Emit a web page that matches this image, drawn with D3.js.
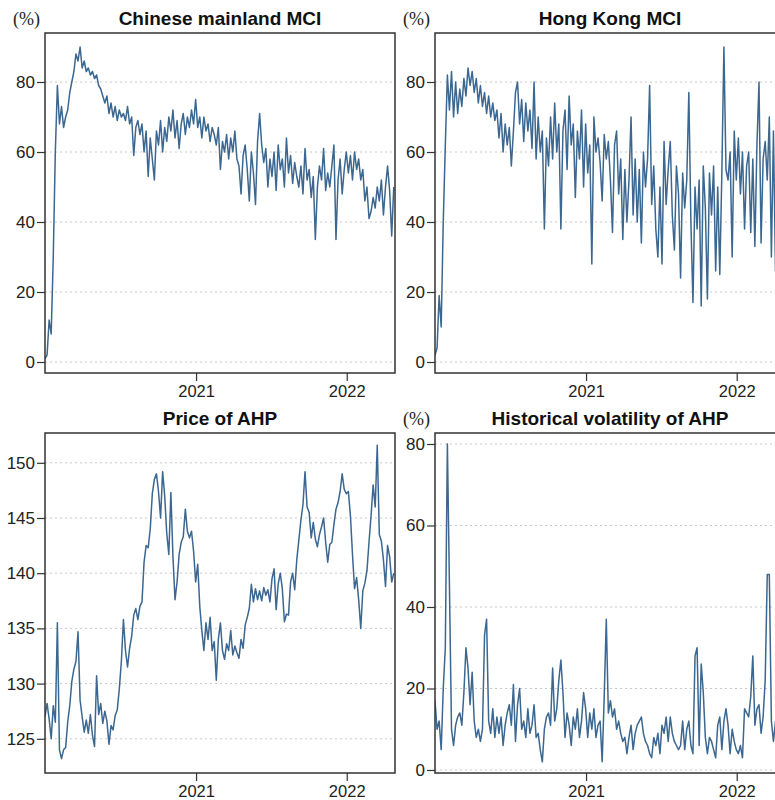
<!DOCTYPE html>
<html>
<head>
<meta charset="utf-8">
<script src="https://cdn.jsdelivr.net/npm/d3@7"></script>
<style>
  body { margin: 0; background: #fff; }
  svg { display: block; overflow: hidden; }
</style>
</head>
<body>
<div id="chart"></div>
<script>
/* DATA (one value every 5 days from 2020-01-01) */
const startDate = new Date(2020, 0, 1);
const endDate = new Date(2022, 3, 28);
const stepDays = 5;
const yearTicks = [2021, 2022];

const mainlandMCI = [
  1, 2, 12, 8, 30, 60, 79, 68, 73, 67, 70, 72, 77, 80, 83, 88, 86, 90, 84, 86,
  83, 84, 82, 83, 81, 82, 79, 78, 76, 74, 76, 71, 74, 70, 73, 69, 72, 70, 71, 69,
  73, 68, 70, 59, 67, 69, 65, 68, 60, 66, 53, 64, 58, 52, 66, 62, 69, 60, 67, 63,
  70, 66, 72, 64, 69, 61, 68, 71, 65, 70, 67, 72, 68, 75, 67, 70, 64, 70, 66, 68,
  63, 67, 65, 62, 67, 55, 63, 60, 65, 58, 64, 60, 66, 58, 56, 48, 59, 62, 55, 46,
  60, 54, 45, 63, 71, 62, 57, 61, 50, 58, 53, 60, 49, 62, 55, 58, 50, 64, 54, 59,
  51, 57, 53, 50, 56, 48, 61, 52, 55, 47, 53, 35, 50, 56, 52, 61, 49, 54, 50, 56,
  62, 35, 52, 58, 48, 55, 60, 54, 59, 52, 60, 55, 58, 52, 55, 46, 50, 41, 43, 47,
  44, 50, 46, 52, 42, 50, 56, 49, 36, 50
];

const hongKongMCI = [
  2, 4, 19, 10, 40, 62, 82, 72, 83, 70, 80, 71, 78, 73, 81, 76, 84, 79, 83, 77,
  81, 74, 79, 73, 77, 71, 76, 70, 74, 69, 72, 64, 71, 60, 68, 62, 67, 56, 66, 77,
  80, 68, 75, 63, 74, 66, 72, 61, 80, 58, 70, 60, 66, 38, 64, 56, 70, 58, 74, 60,
  68, 38, 66, 72, 55, 76, 62, 68, 47, 66, 58, 72, 50, 68, 54, 62, 28, 70, 60, 64,
  57, 46, 65, 58, 63, 52, 37, 62, 66, 48, 58, 35, 55, 40, 52, 70, 42, 58, 40, 55,
  34, 60, 50, 58, 79, 45, 56, 38, 30, 50, 28, 63, 45, 55, 63, 42, 32, 56, 48, 24,
  54, 44, 52, 77, 40, 17, 50, 38, 52, 16, 56, 44, 18, 54, 42, 56, 26, 50, 25, 54,
  90, 55, 52, 60, 30, 66, 52, 64, 48, 60, 38, 56, 60, 37, 58, 33, 62, 80, 34, 58,
  63, 52, 70, 30, 66, 26, 60, 55, 48, 52
];

const priceAHP = [
  127, 128.2, 126.8, 125, 128, 126.5, 135.5, 124, 123.2, 124, 124.2, 126.5, 128, 130.2, 131.3, 132, 134.7, 128.5, 127, 125.6,
  126.7, 125.5, 127.2, 125.3, 124.3, 130.7, 127.2, 128.2, 126.4, 127.5, 126.6, 124.5, 126.2, 125.8, 127.1, 127.6, 129.5, 132, 135.8, 133,
  131.5, 133.2, 134.3, 136.2, 136.8, 135.8, 137, 137.4, 141, 142.5, 142.3, 144, 147.2, 148.5, 149, 147.4, 145, 149.2, 147, 143.6,
  141.7, 147.3, 141.5, 137.6, 139.2, 141.7, 142.8, 143.3, 145.8, 143.8, 143.2, 143.8, 142, 139.2, 140.8, 137, 134.8, 133, 135.5, 134,
  136, 133, 133.8, 130.3, 134, 135.5, 133, 132.2, 133.6, 133, 134.8, 132.6, 133.4, 132.8, 132.3, 134, 133.2, 135.3, 136, 136.8,
  139, 137.4, 138.6, 137.6, 138.4, 137.5, 138.7, 138, 138.5, 137.4, 139.5, 140.4, 136.7, 139, 140, 138.6, 135.6, 136.3, 136.2, 139.2,
  140, 138.5, 141.2, 143, 144.8, 146.2, 149.2, 146, 145.5, 143.2, 144.6, 143.1, 142.4, 143.5, 144.2, 145, 142.8, 141, 142.6, 142.8,
  144.4, 145.8, 146.4, 147.4, 149, 147.6, 147.2, 147.4, 145.2, 141.7, 138.6, 139.6, 137.6, 135, 138.4, 139.1, 140.2, 142.8, 145.2, 148,
  146, 151.6, 143.5, 142.9, 141.2, 138.8, 142.5, 141.5, 139.2, 140
];

const volatilityAHP = [
  17, 10, 12, 5, 20, 30, 80, 45, 10, 6, 11, 13, 14, 11, 19, 30, 25, 16, 24, 12,
  8, 10, 7, 10, 33, 37, 12, 9, 15, 8, 13, 9, 13, 6, 11, 14, 16, 11, 21, 7,
  16, 20, 10, 12, 8, 15, 9, 11, 16, 8, 9, 5, 2, 10, 13, 14, 11, 25, 12, 15,
  22, 27, 19, 8, 14, 11, 6, 13, 10, 15, 8, 12, 19, 15, 8, 14, 10, 15, 8, 11,
  12, 2, 18, 37, 14, 17, 13, 15, 10, 12, 9, 7, 8, 4, 8, 11, 5, 9, 11, 12,
  13, 9, 7, 6, 4, 3, 8, 6, 9, 4, 11, 9, 13, 7, 13, 9, 7, 6, 5, 6,
  12, 5, 10, 12, 6, 4, 28, 30, 6, 26, 19, 8, 4, 8, 7, 5, 3, 11, 13, 5,
  12, 15, 11, 4, 10, 7, 5, 4, 6, 3, 15, 14, 13, 18, 28, 11, 15, 16, 9, 13,
  22, 48, 48, 12, 7, 12, 10, 11, 9, 10
];

/* LAYOUT */
const width = 775, height = 800;
const panelW = 350, panelH = 340;
const lineColor = "#3b6790";

const panels = [
  { title: "Chinese mainland MCI", values: mainlandMCI, x: 45, y: 33, domain: [-3.14, 94], ticks: [0, 20, 40, 60, 80], unit: true },
  { title: "Hong Kong MCI", values: hongKongMCI, x: 435, y: 33, domain: [-3.14, 94], ticks: [0, 20, 40, 60, 80], unit: true },
  { title: "Price of AHP", values: priceAHP, x: 45, y: 433, domain: [121.9, 152.7], ticks: [125, 130, 135, 140, 145, 150], unit: false },
  { title: "Historical volatility of AHP", values: volatilityAHP, x: 435, y: 433, domain: [-0.74, 82.7], ticks: [0, 20, 40, 60, 80], unit: true }
];

const svg = d3.select("#chart")
  .append("svg")
  .attr("width", width)
  .attr("height", height);

panels.forEach((p, k) => {
  const data = p.values.map((v, i) => ({ date: d3.timeDay.offset(startDate, i * stepDays), value: v }));

  const xScale = d3.scaleTime()
    .domain([startDate, endDate])
    .range([0, panelW]);

  const yScale = d3.scaleLinear()
    .domain(p.domain)
    .range([panelH, 0]);

  const g = svg.append("g")
    .attr("transform", `translate(${p.x}, ${p.y})`);

  // dotted grid lines
  g.selectAll(".grid")
    .data(p.ticks)
    .join("line")
    .attr("class", "grid")
    .attr("x1", 0)
    .attr("x2", panelW)
    .attr("y1", d => yScale(d))
    .attr("y2", d => yScale(d))
    .attr("stroke", "#c8c8c8")
    .attr("stroke-width", 1)
    .attr("stroke-dasharray", "2,3");

  // clip the line to the frame
  g.append("clipPath")
    .attr("id", "clip" + k)
    .append("rect")
    .attr("width", panelW)
    .attr("height", panelH);

  const line = d3.line()
    .x(d => xScale(d.date))
    .y(d => yScale(d.value));

  g.append("path")
    .datum(data)
    .attr("clip-path", `url(#clip${k})`)
    .attr("fill", "none")
    .attr("stroke", lineColor)
    .attr("stroke-width", 1.5)
    .attr("stroke-linejoin", "round")
    .attr("d", line);

  // axes
  const yAxis = d3.axisLeft(yScale)
    .tickValues(p.ticks)
    .tickSize(8)
    .tickPadding(2);

  const xAxis = d3.axisBottom(xScale)
    .tickValues(yearTicks.map(y => new Date(y, 0, 1)))
    .tickFormat(d3.timeFormat("%Y"))
    .tickSize(8)
    .tickPadding(4);

  g.append("g")
    .attr("class", "yAxis")
    .call(yAxis)
    .call(a => a.select(".domain").remove())
    .call(a => a.selectAll("text").attr("font-size", 17));

  g.append("g")
    .attr("class", "xAxis")
    .attr("transform", `translate(0, ${panelH})`)
    .call(xAxis)
    .call(a => a.select(".domain").remove())
    .call(a => a.selectAll("text").attr("font-size", 16.5));

  g.selectAll(".tick line").attr("stroke", "#333").attr("stroke-width", 1.2);
  g.selectAll(".tick text").attr("fill", "#222").attr("font-family", "'Liberation Sans', Arial, sans-serif");

  // frame
  g.append("rect")
    .attr("width", panelW)
    .attr("height", panelH)
    .attr("fill", "none")
    .attr("stroke", "#333")
    .attr("stroke-width", 1.5);

  // title
  g.append("text")
    .attr("x", panelW / 2)
    .attr("y", -8)
    .attr("text-anchor", "middle")
    .attr("font-family", "'Liberation Sans', Arial, sans-serif")
    .attr("font-weight", "bold")
    .attr("font-size", 19)
    .attr("fill", "#111")
    .text(p.title);

  if (p.unit) {
    g.append("text")
      .attr("x", -32)
      .attr("y", -8)
      .attr("font-family", "'Liberation Serif', 'Times New Roman', serif")
      .attr("font-size", 18)
      .attr("fill", "#222")
      .text("(%)");
  }
});
</script>
</body>
</html>
